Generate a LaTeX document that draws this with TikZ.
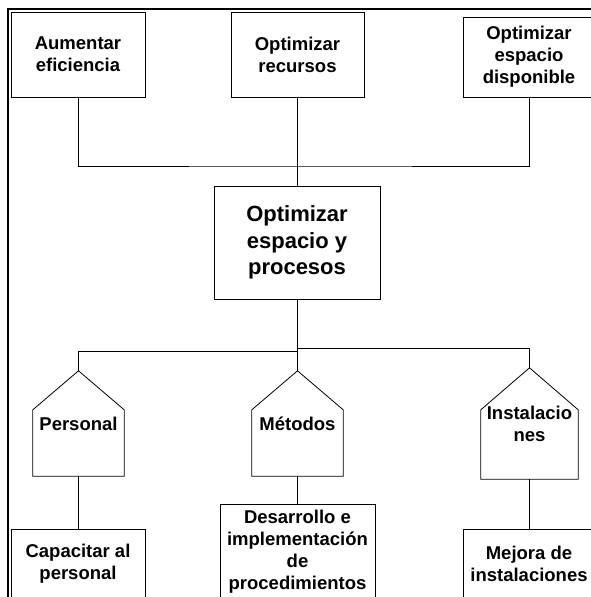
\documentclass[tikz,border=0pt]{standalone}
\usepackage{fontspec}
\setmainfont{Liberation Sans}
\begin{document}
\begin{tikzpicture}[x=1pt,y=-1pt,
  box/.style={draw=black,line width=0.8pt,align=center,inner sep=0pt,
    font=\fontsize{18.5}{22}\selectfont\bfseries},
  house/.style={draw=none,align=center,inner sep=0pt,
    font=\fontsize{18.5}{22}\selectfont\bfseries},
  conn/.style={draw=black,line width=0.8pt}]
\useasboundingbox (0,0) rectangle (591,597);
\clip (0,0) rectangle (591,597);
% frame
\draw[line width=2.6pt] (7.8,597) -- (7.8,8.8) -- (591,8.8);
% top boxes
\node[box,minimum width=134,minimum height=85] (aum) at (78,54.5) {Aumentar\\eficiencia};
\node[box,minimum width=133,minimum height=85] (rec) at (297.5,54.5) {Optimizar\\recursos};
\node[box,minimum width=132,minimum height=80] (disp) at (529,57) {Optimizar\\espacio\\disponible};
% centre
\node[box,minimum width=166,minimum height=113,font=\fontsize{22}{26.5}\selectfont\bfseries] (cen) at (297,242.5) {Optimizar\\espacio y\\procesos};
% houses
\node[house,minimum width=91,minimum height=105] (pers) at (78.5,423.5) {Personal};
\node[house,minimum width=91,minimum height=105] (met) at (297.5,423.5) {Métodos};
\node[house,minimum width=97,minimum height=111] (inst) at (529.5,423.5) {Instalacio\\nes};
\foreach \n/\r in {pers/39,met/39,inst/42}
  \draw[conn] (\n.south west) -- ([yshift=-\r pt]\n.north west) -- (\n.north)
     -- ([yshift=-\r pt]\n.north east) -- (\n.south east) -- cycle;
% bottom boxes
\node[box,minimum width=134,minimum height=69] (cap) at (78,563.5) {Capacitar al\\personal};
\node[box,minimum width=155,minimum height=96] (des) at (297.5,552) {Desarrollo e\\implementación\\de\\procedimientos};
\node[box,minimum width=132,minimum height=69] (mej) at (529,563.5) {Mejora de\\instalaciones};
% junctions
\coordinate (jt) at (297,166);
\coordinate (jbl) at (297,351);
\coordinate (jbr) at (297,348);
% connectors
\draw[conn] (aum.south) |- (jt) -| (disp.south);
\draw[conn] (rec.south) -- (rec.south |- cen.north);
\draw[conn] (cen.south) -- (cen.south |- met.north);
\draw[conn] (pers.north) |- (jbl);
\draw[conn] (jbr) -| (inst.north);
\draw[conn] (pers.south) -- (pers.south |- cap.north);
\draw[conn] (met.south) -- (met.south |- des.north);
\draw[conn] (inst.south) -- (inst.south |- mej.north);
\end{tikzpicture}
\end{document}
